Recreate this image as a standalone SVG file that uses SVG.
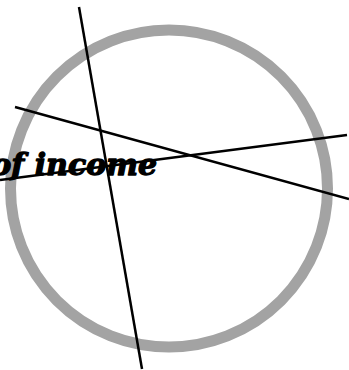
<svg xmlns="http://www.w3.org/2000/svg" width="349" height="370" viewBox="0 0 349 370">
<style>
.ln{stroke:#000;stroke-width:2.5;fill:none;stroke-linecap:butt}
.lbl{font-family:"DejaVu Serif","Liberation Serif",serif;font-weight:bold;font-style:italic;font-size:30px;fill:#000;stroke:#000;stroke-width:1.3;stroke-linejoin:round}
</style>
<rect width="349" height="370" fill="#fff"/>
<g id="ring"><circle cx="169" cy="188.5" r="158.5" fill="none" stroke="#a3a3a3" stroke-width="11"/></g>
<g id="label"><text class="lbl" x="157" y="175" text-anchor="end">of income</text></g>
<g id="connectors">
<line class="ln" x1="79" y1="7" x2="142" y2="369"/>
<line class="ln" x1="15" y1="107" x2="349" y2="199"/>
<line class="ln" x1="0" y1="180" x2="347" y2="135"/>
</g>
</svg>
